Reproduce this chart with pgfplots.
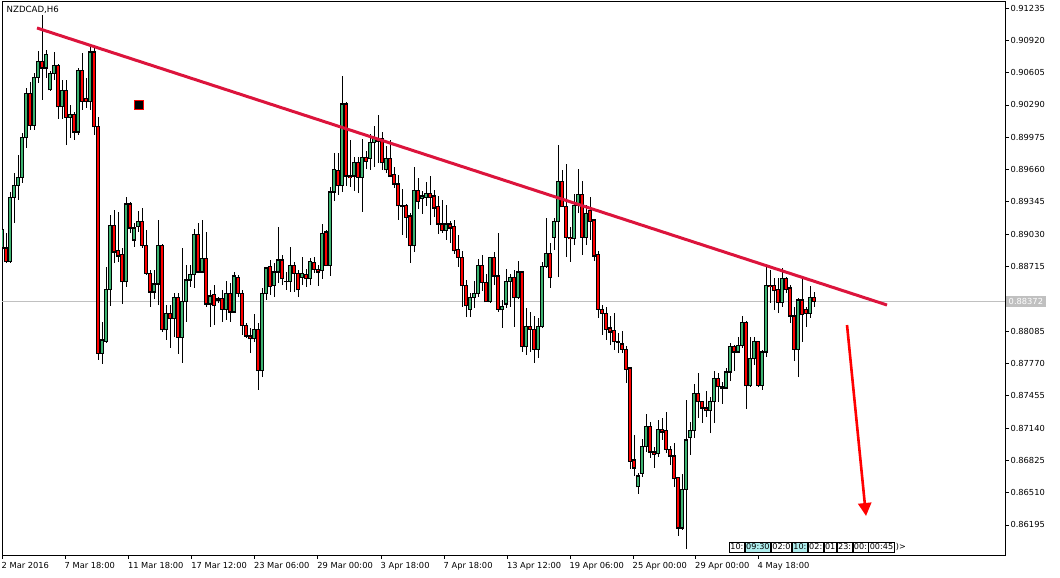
\documentclass[border=0pt]{standalone}
\usepackage{pgfplots}
\pgfplotsset{compat=1.18}
\usepackage{pgfplotstable}
\usepackage{fontspec}
\setmainfont{DejaVu Sans}
\usetikzlibrary{arrows.meta}
\definecolor{bull}{RGB}{60,179,113}
\definecolor{bear}{RGB}{255,0,0}
\definecolor{trend}{RGB}{220,20,60}
\definecolor{silverline}{RGB}{192,192,192}
\definecolor{evcyan}{RGB}{175,238,238}

\pgfplotstableread{
i o h l c
-1 0.88895 0.89090 0.88876 0.89071
0 0.88895 0.89041 0.88749 0.88759
1 0.88759 0.89441 0.88749 0.89392
2 0.89392 0.89626 0.89139 0.89509
3 0.89509 0.89802 0.89363 0.89587
4 0.89587 0.90016 0.89529 0.89968
5 0.89968 0.90455 0.89870 0.90397
6 0.90397 0.90514 0.90046 0.90094
7 0.90094 0.90601 0.90046 0.90562
8 0.90562 0.90816 0.90504 0.90718
9 0.90718 0.91167 0.90338 0.90650
10 0.90650 0.90826 0.90553 0.90777
11 0.90436 0.90621 0.90426 0.90601
12 0.90601 0.90806 0.90533 0.90670
13 0.90670 0.90689 0.90153 0.90270
14 0.90270 0.90533 0.90153 0.90426
15 0.90426 0.90533 0.89899 0.90172
16 0.90172 0.90289 0.89968 0.90192
17 0.90192 0.90221 0.89948 0.90026
18 0.90026 0.90650 0.89997 0.90621
19 0.90621 0.90796 0.90241 0.90328
20 0.90348 0.90553 0.90260 0.90328
21 0.90328 0.90855 0.90241 0.90806
22 0.90806 0.90874 0.89997 0.90075
23 0.90075 0.90172 0.87803 0.87871
24 0.87871 0.88174 0.87764 0.87998
25 0.87988 0.88710 0.87969 0.88495
26 0.88495 0.89217 0.88330 0.89119
27 0.89119 0.89266 0.88749 0.88856
28 0.88866 0.89246 0.88759 0.88817
29 0.88827 0.88895 0.88349 0.88564
30 0.88564 0.89392 0.88515 0.89324
31 0.89324 0.89344 0.89041 0.89090
32 0.88973 0.89139 0.88905 0.89090
33 0.89100 0.89256 0.89051 0.89149
34 0.89149 0.89285 0.88895 0.88915
35 0.88915 0.89071 0.88632 0.88651
36 0.88651 0.88681 0.88320 0.88466
37 0.88466 0.88681 0.88398 0.88544
38 0.88544 0.89168 0.88339 0.88924
39 0.88924 0.88934 0.88076 0.88096
40 0.88096 0.88339 0.87998 0.88261
41 0.88261 0.88339 0.87920 0.88203
42 0.88203 0.88456 0.88027 0.88408
43 0.88408 0.88456 0.87862 0.88027
44 0.88027 0.88895 0.87774 0.88369
45 0.88369 0.88729 0.88174 0.88583
46 0.88583 0.88729 0.88515 0.88632
47 0.88632 0.89080 0.88505 0.89022
48 0.89022 0.89139 0.88651 0.88661
49 0.88661 0.89168 0.88651 0.88788
50 0.88788 0.89051 0.88320 0.88349
51 0.88349 0.88486 0.88125 0.88427
52 0.88437 0.88534 0.88144 0.88330
53 0.88398 0.88417 0.88359 0.88388
54 0.88398 0.88486 0.88174 0.88300
55 0.88300 0.88573 0.88193 0.88447
56 0.88447 0.88554 0.88174 0.88271
57 0.88271 0.88661 0.88261 0.88622
58 0.88612 0.88632 0.88417 0.88456
59 0.88456 0.88486 0.88047 0.88135
60 0.88135 0.88164 0.88018 0.88037
61 0.88037 0.88115 0.87871 0.88008
62 0.88008 0.88252 0.87979 0.88096
63 0.88096 0.88164 0.87511 0.87696
64 0.87696 0.88505 0.87637 0.88447
65 0.88447 0.88710 0.88388 0.88700
66 0.88710 0.88778 0.88437 0.88515
67 0.88525 0.88749 0.88417 0.88661
68 0.88661 0.89100 0.88554 0.88778
69 0.88778 0.88827 0.88534 0.88593
70 0.88573 0.88661 0.88486 0.88573
71 0.88564 0.88905 0.88466 0.88720
72 0.88720 0.88759 0.88466 0.88651
73 0.88651 0.88681 0.88417 0.88486
74 0.88612 0.88807 0.88534 0.88651
75 0.88632 0.88690 0.88515 0.88593
76 0.88593 0.88798 0.88534 0.88759
77 0.88749 0.88807 0.88651 0.88690
78 0.88690 0.88729 0.88525 0.88661
79 0.88671 0.89129 0.88593 0.89041
80 0.89051 0.89071 0.88720 0.88729
81 0.88729 0.89490 0.88622 0.89441
82 0.89441 0.89821 0.89353 0.89656
83 0.89646 0.89821 0.89412 0.89500
84 0.89500 0.90572 0.89441 0.90299
85 0.90299 0.90319 0.89500 0.89597
86 0.89597 0.89948 0.89490 0.89578
87 0.89597 0.89782 0.89451 0.89724
88 0.89724 0.89782 0.89431 0.89587
89 0.89587 0.89958 0.89246 0.89782
90 0.89782 0.89841 0.89665 0.89743
91 0.89763 0.90007 0.89656 0.89919
92 0.89919 0.90085 0.89685 0.89958
93 0.89958 0.90192 0.89724 0.89938
94 0.89958 0.90026 0.89656 0.89724
95 0.89656 0.89890 0.89626 0.89763
96 0.89763 0.89948 0.89587 0.89597
97 0.89607 0.89685 0.89480 0.89519
98 0.89519 0.89607 0.89168 0.89305
99 0.89305 0.89470 0.89022 0.89295
100 0.89305 0.89324 0.88993 0.89197
101 0.89207 0.89236 0.88749 0.88915
102 0.88915 0.89685 0.88856 0.89451
103 0.89451 0.89578 0.89275 0.89353
104 0.89373 0.89451 0.89227 0.89402
105 0.89392 0.89539 0.89305 0.89422
106 0.89422 0.89597 0.89119 0.89383
107 0.89402 0.89461 0.89197 0.89285
108 0.89295 0.89402 0.89032 0.89129
109 0.89129 0.89363 0.89041 0.89061
110 0.89061 0.89314 0.88973 0.89129
111 0.89129 0.89158 0.88944 0.89090
112 0.89100 0.89168 0.88837 0.88866
113 0.88876 0.89022 0.88710 0.88798
114 0.88798 0.88866 0.88320 0.88525
115 0.88534 0.88583 0.88222 0.88330
116 0.88300 0.88456 0.88222 0.88408
117 0.88417 0.88573 0.88310 0.88447
118 0.88447 0.88788 0.88417 0.88729
119 0.88729 0.88827 0.88476 0.88554
120 0.88554 0.88642 0.88369 0.88369
121 0.88369 0.88807 0.88359 0.88798
122 0.88798 0.88856 0.88534 0.88622
123 0.88622 0.89041 0.88271 0.88300
124 0.88291 0.88388 0.88115 0.88320
125 0.88349 0.88690 0.88310 0.88573
126 0.88573 0.88642 0.88320 0.88612
127 0.88612 0.88681 0.88125 0.88408
128 0.88408 0.88768 0.88398 0.88661
129 0.88661 0.88671 0.87881 0.87930
130 0.87930 0.88310 0.87852 0.88125
131 0.88125 0.88271 0.87881 0.88105
132 0.88105 0.88232 0.87774 0.87910
133 0.87910 0.88213 0.87823 0.88125
134 0.88125 0.88759 0.88115 0.88710
135 0.88710 0.89188 0.88700 0.88846
136 0.88837 0.88944 0.88505 0.88603
137 0.89002 0.89188 0.88876 0.89149
138 0.89149 0.89899 0.88612 0.89539
139 0.89539 0.89656 0.89295 0.89295
140 0.89295 0.89714 0.88807 0.89002
141 0.89002 0.89100 0.88759 0.88983
142 0.88983 0.89422 0.88924 0.89305
143 0.89305 0.89665 0.89236 0.89412
144 0.89412 0.89548 0.88827 0.89002
145 0.88993 0.89314 0.88924 0.89236
146 0.89256 0.89392 0.88973 0.89158
147 0.89168 0.89178 0.88768 0.88817
148 0.88827 0.88866 0.88213 0.88300
149 0.88300 0.88339 0.88047 0.88261
150 0.88261 0.88320 0.87998 0.88105
151 0.88115 0.88232 0.87949 0.88076
152 0.88086 0.88261 0.87901 0.87979
153 0.87979 0.88066 0.87871 0.87969
154 0.87959 0.88086 0.87871 0.87910
155 0.87910 0.87940 0.87579 0.87715
156 0.87725 0.87735 0.86740 0.86818
157 0.86828 0.87072 0.86672 0.86750
158 0.86565 0.86701 0.86497 0.86672
159 0.86701 0.87033 0.86662 0.86955
160 0.86955 0.87277 0.86906 0.87150
161 0.87150 0.87199 0.86848 0.86906
162 0.86906 0.86955 0.86750 0.86877
163 0.86887 0.87218 0.86857 0.87130
164 0.87130 0.87238 0.87023 0.87101
165 0.87111 0.87296 0.86896 0.86935
166 0.86935 0.86965 0.86779 0.86867
167 0.86867 0.86994 0.86565 0.86643
168 0.86653 0.86662 0.86087 0.86165
169 0.86165 0.86692 0.86146 0.86545
170 0.86545 0.87413 0.85960 0.87023
171 0.87052 0.87199 0.86877 0.87111
172 0.87111 0.87569 0.87043 0.87481
173 0.87481 0.87676 0.87238 0.87394
174 0.87394 0.87404 0.87189 0.87335
175 0.87335 0.87501 0.87247 0.87306
176 0.87306 0.87442 0.87091 0.87394
177 0.87394 0.87696 0.87189 0.87618
178 0.87618 0.87676 0.87394 0.87540
179 0.87540 0.87589 0.87374 0.87530
180 0.87530 0.87725 0.87520 0.87686
181 0.87686 0.87969 0.87598 0.87930
182 0.87930 0.87949 0.87696 0.87881
183 0.87881 0.88027 0.87871 0.87940
184 0.87940 0.88232 0.87920 0.88164
185 0.88164 0.88183 0.87325 0.87550
186 0.87550 0.88027 0.87540 0.87813
187 0.87813 0.88027 0.87754 0.87979
188 0.87979 0.87988 0.87540 0.87559
189 0.87559 0.87901 0.87511 0.87881
190 0.87881 0.88729 0.87832 0.88534
191 0.88534 0.88681 0.88359 0.88515
192 0.88534 0.88603 0.88291 0.88476
193 0.88486 0.88603 0.88261 0.88359
194 0.88359 0.88700 0.88320 0.88593
195 0.88593 0.88612 0.88456 0.88495
196 0.88505 0.88534 0.88164 0.88232
197 0.88232 0.88320 0.87793 0.87910
198 0.87910 0.88408 0.87637 0.88388
199 0.88388 0.88603 0.87979 0.88242
200 0.88300 0.88320 0.88125 0.88261
201 0.88261 0.88525 0.88213 0.88408
202 0.88408 0.88466 0.88320 0.88372
}\candles

\begin{document}
\begin{tikzpicture}[x=1pt,y=1pt]
\begin{axis}[
  at={(0,0)}, anchor=south west,
  scale only axis, width=1003pt, height=554pt,
  xmin=-1, xmax=249.75, ymin=0.85892, ymax=0.912935,
  clip mode=individual,
  axis line style={black, line width=1pt},
  tick align=outside,
  xtick pos=bottom, ytick pos=right, yticklabel pos=right,
  xtick={-1,14.75,30.58,46.43,62.08,77.93,93.75,109.5,125.33,141,156.75,172.38,188},
  xticklabels={2 Mar 2016,7 Mar 18:00,11 Mar 18:00,17 Mar 12:00,23 Mar 06:00,29 Mar 00:00,3 Apr 18:00,7 Apr 18:00,13 Apr 12:00,19 Apr 06:00,25 Apr 00:00,29 Apr 00:00,4 May 18:00},
  ytick={0.91235,0.90920,0.90605,0.90290,0.89975,0.89660,0.89345,0.89030,0.88715,0.88085,0.87770,0.87455,0.87140,0.86825,0.86510,0.86195},
  yticklabels={0.91235,0.90920,0.90605,0.90290,0.89975,0.89660,0.89345,0.89030,0.88715,0.88085,0.87770,0.87455,0.87140,0.86825,0.86510,0.86195},
  xtick style={black, line width=0.8pt, /pgfplots/major tick length=3pt},
  ytick style={black, line width=0.8pt, /pgfplots/major tick length=4pt},
  tick label style={font=\fontsize{8.3}{9}\selectfont, /pgf/number format/assume math mode=true},
  xticklabel style={anchor=north west, inner sep=0pt, xshift=-0.5pt, yshift=-2pt},
  yticklabel style={anchor=west, inner sep=0pt, xshift=1pt},
  scaled y ticks=false,
  minor tick num=0,
  unbounded coords=discard,
]
% current price line
\addplot[silverline, line width=1pt, forget plot] coordinates {(-1,0.88372) (249.75,0.88372)};
% wicks
\addplot[draw=none, mark=none, forget plot,
  error bars/.cd, y dir=plus, y explicit, error mark=none,
  error bar style={draw=black, solid, line width=1pt, line cap=butt}]
  table[x=i, y=l, y error plus expr={\thisrow{h}-\thisrow{l}}] {\candles};
% body outlines
\addplot[draw=none, mark=none, forget plot,
  error bars/.cd, y dir=plus, y explicit, error mark=none,
  error bar style={draw=black, solid, line width=3.4pt, line cap=butt}]
  table[x=i, y expr={min(\thisrow{o},\thisrow{c})-0.00005}, y error plus expr={abs(\thisrow{c}-\thisrow{o})+0.0001}] {\candles};
% bull bodies (zero length where the bar is bearish)
\addplot[draw=none, mark=none, forget plot,
  error bars/.cd, y dir=plus, y explicit, error mark=none,
  error bar style={draw=bull, solid, line width=1.8pt, line cap=butt}]
  table[x=i, y expr={\thisrow{o}+0.00005}, y error plus expr={max(\thisrow{c}-\thisrow{o}-0.0001,0)}] {\candles};
% bear bodies (zero length where the bar is bullish)
\addplot[draw=none, mark=none, forget plot,
  error bars/.cd, y dir=plus, y explicit, error mark=none,
  error bar style={draw=bear, solid, line width=1.8pt, line cap=butt}]
  table[x=i, y expr={\thisrow{c}+0.00005}, y error plus expr={max(\thisrow{o}-\thisrow{c}-0.0001,0)}] {\candles};
% trend line
\addplot[trend, line width=3pt, forget plot] coordinates {(7.75,0.91040) (220.25,0.88339)};
% arrow
\addplot[bear, line width=2.6pt, forget plot, -{Triangle[length=13pt,width=13pt]}] coordinates {(210.25,0.88144) (215,0.86282)};
% square marker
\addplot[only marks, mark=square*, mark size=4.2pt, mark options={fill=black, draw=bear, line width=1.3pt}, forget plot] coordinates {(33.25,0.90289)};
\node[anchor=north west, inner sep=0pt, font=\fontsize{8.6}{9}\selectfont] at (rel axis cs:0,1) [xshift=4.5pt, yshift=-4pt] {NZDCAD,H6};
\coordinate (pl) at (axis cs:249.75,0.88372);
\end{axis}
\node[fill=silverline, text=white, anchor=west, inner xsep=2.5pt, inner ysep=2pt, font=\fontsize{8.3}{9}\selectfont] at ([xshift=1pt]pl) {0.88372};
\begin{scope}[every node/.style={draw=black, line width=0.6pt, inner xsep=1.1pt, inner ysep=1.8pt, font=\fontsize{8.1}{9}\selectfont, anchor=west}]
\node (e0) at (727,9) {10:};
\node[fill=evcyan] (e1) at (e0.east) {09:30};
\node (e2) at (e1.east) {02:0};
\node[fill=evcyan] (e3) at (e2.east) {10:};
\node (e4) at (e3.east) {02:};
\node (e5) at (e4.east) {01};
\node (e6) at (e5.east) {23:};
\node (e7) at (e6.east) {00:};
\node (e8) at (e7.east) {00:45};
\node[draw=none] (e9) at (e8.east) {)\textgreater};
\end{scope}
\pgfresetboundingbox
\path[use as bounding box] (-2,-22) rectangle (1058,556);
\end{tikzpicture}
\end{document}
